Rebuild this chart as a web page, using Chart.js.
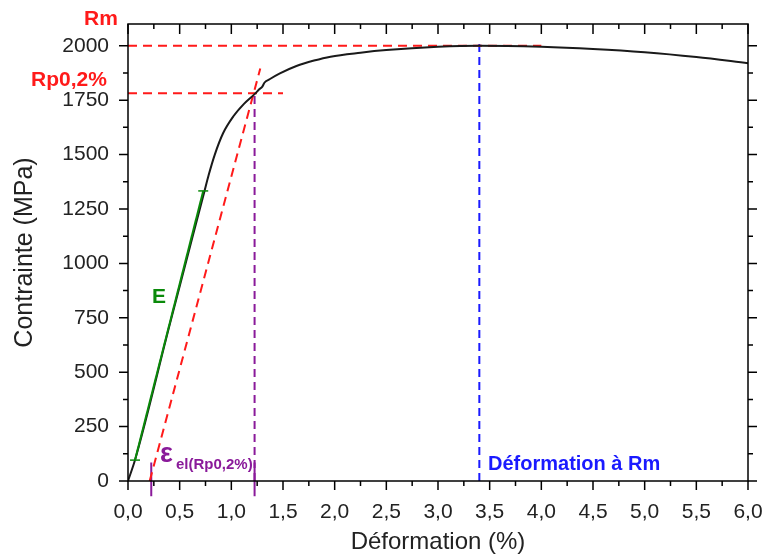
<!DOCTYPE html>
<html>
<head>
<meta charset="utf-8">
<script src="https://cdn.jsdelivr.net/npm/chart.js@4"></script>
<style>
  html, body { margin: 0; padding: 0; background: #fff; }
  #wrap { width: 763px; height: 558px; }
</style>
</head>
<body>
<div id="wrap"><canvas id="stressChart" width="763" height="558"></canvas></div>
<script>
// stress-strain curve
const strain = [0, 0.07, 0.4, 0.74, 0.78, 0.84, 0.92, 1.02, 1.12, 1.23, 1.27, 1.30, 1.32, 1.37, 1.47, 1.63, 1.8, 1.96, 2.25, 2.5, 3.0, 3.4, 4.0, 4.5, 5.0, 5.5, 6.0];
const stress = [0, 100, 712, 1332, 1405, 1500, 1598, 1676, 1732, 1780, 1800, 1812, 1830, 1846, 1873, 1907, 1932, 1950, 1968, 1980, 1995, 2000, 1995, 1985, 1970, 1948, 1920];

// young's modulus segment
const modulusStrain = [0.068, 0.728];
const modulusStress = [96, 1333];

// 0.2% offset line
const offsetStrain = [0.21, 1.28];
const offsetStress = [0, 1895];

// Rm, Rp0,2% and strain at Rm
const rm = 2000;
const rmEnd = 4.0;
const rp = 1782;
const rpEnd = 1.5;
const rpStrain = 1.225;
const elStart = 0.225;
const rmStrain = 3.4;
const rmLineTop = 2030;

const xTicks = [0, 0.5, 1, 1.5, 2, 2.5, 3, 3.5, 4, 4.5, 5, 5.5, 6];
const yTicks = [0, 250, 500, 750, 1000, 1250, 1500, 1750, 2000];

const RED = "#ff1a1a";
const GREEN = "#0a8a0a";
const PURPLE = "#8a1a9a";
const BLUE = "#1a1aff";
const FONT = "'Liberation Sans', Arial, sans-serif";

function pts(xs, ys) {
    return xs.map((x, i) => ({ x: x, y: ys[i] }));
}

function dashed(label, data, color, dash) {
    return {
        label: label,
        data: data,
        showLine: true,
        borderColor: color,
        borderWidth: 2,
        borderDash: dash,
        pointRadius: 0,
        fill: false
    };
}

// frame, mirrored ticks and the text labels
const framePlugin = {
    id: "frame",
    afterDatasetsDraw(chart) {
        const ctx = chart.ctx;
        const a = chart.chartArea;
        const xs = chart.scales.x;
        const ys = chart.scales.y;
        ctx.save();
        ctx.strokeStyle = "#000";
        ctx.lineWidth = 1.5;
        ctx.strokeRect(a.left, a.top, a.right - a.left, a.bottom - a.top);

        function mids(vals) {
            let out = [];
            for (let i = 0; i < vals.length - 1; i++) out.push((vals[i] + vals[i + 1]) / 2);
            return out;
        }
        const xMaj = xs.ticks.map(t => t.value);
        const yMaj = ys.ticks.map(t => t.value);
        const xMin = mids(xMaj);
        const yMin = mids(yMaj).concat([yMaj[yMaj.length - 1] + 125]).filter(v => v <= ys.max);

        ctx.beginPath();
        xMaj.forEach(v => {
            const p = xs.getPixelForValue(v);
            ctx.moveTo(p, a.bottom); ctx.lineTo(p, a.bottom + 9);
            ctx.moveTo(p, a.top); ctx.lineTo(p, a.top + 10);
        });
        xMin.forEach(v => {
            const p = xs.getPixelForValue(v);
            ctx.moveTo(p, a.bottom); ctx.lineTo(p, a.bottom + 5);
            ctx.moveTo(p, a.top); ctx.lineTo(p, a.top + 5);
        });
        yMaj.forEach(v => {
            const p = ys.getPixelForValue(v);
            ctx.moveTo(a.left, p); ctx.lineTo(a.left - 9, p);
            ctx.moveTo(a.right, p); ctx.lineTo(a.right + 9, p);
        });
        yMin.forEach(v => {
            const p = ys.getPixelForValue(v);
            ctx.moveTo(a.left, p); ctx.lineTo(a.left - 5, p);
            ctx.moveTo(a.right, p); ctx.lineTo(a.right + 5, p);
        });
        ctx.stroke();

        ctx.textBaseline = "middle";
        ctx.textAlign = "left";
        ctx.font = "bold 21px " + FONT;
        ctx.fillStyle = RED;
        ctx.fillText("Rm", 84, 19);
        ctx.fillText("Rp0,2%", 31, 80);
        ctx.fillStyle = GREEN;
        ctx.fillText("E", 152, 297);
        ctx.fillStyle = BLUE;
        ctx.font = "bold 20px " + FONT;
        ctx.fillText("Déformation à Rm", 488, 464);
        ctx.fillStyle = PURPLE;
        ctx.font = "bold 27px " + FONT;
        ctx.fillText("ε", 160, 455);
        ctx.font = "bold 15px " + FONT;
        ctx.fillText("el(Rp0,2%)", 176, 465);
        ctx.restore();
    }
};

const ctx = document.getElementById("stressChart").getContext("2d");

const chart = new Chart(ctx, {
    type: "scatter",
    data: {
        datasets: [
            {
                label: "E",
                data: pts(modulusStrain, modulusStress),
                showLine: true,
                borderColor: GREEN,
                borderWidth: 2,
                pointStyle: "line",
                pointRadius: 5,
                pointBorderWidth: 1.5,
                pointBorderColor: GREEN,
                order: 0
            },
            {
                label: "curve",
                data: pts(strain, stress),
                showLine: true,
                borderColor: "#1a1a1a",
                borderWidth: 2,
                pointRadius: 0,
                cubicInterpolationMode: "monotone",
                order: 1
            },
            Object.assign(dashed("offset", pts(offsetStrain, offsetStress), RED, [9, 6]), { order: 2 }),
            Object.assign(dashed("Rm", pts([0, rmEnd], [rm, rm]), RED, [9, 6]), { order: 3 }),
            Object.assign(dashed("Rp", pts([0, rpEnd], [rp, rp]), RED, [9, 6]), { order: 4 }),
            Object.assign(dashed("rp strain", pts([rpStrain, rpStrain], [0, rp]), PURPLE, [8, 5]), { order: 5 }),
            Object.assign(dashed("rm strain", pts([rmStrain, rmStrain], [0, rmLineTop]), BLUE, [8, 5]), { order: 6 }),
            {
                label: "el start",
                data: pts([elStart, elStart], [-70, 85]),
                showLine: true, borderColor: PURPLE, borderWidth: 2, pointRadius: 0, clip: false, order: 7
            },
            {
                label: "el end",
                data: pts([rpStrain, rpStrain], [-70, 85]),
                showLine: true, borderColor: PURPLE, borderWidth: 2, pointRadius: 0, clip: false, order: 8
            }
        ]
    },
    options: {
        responsive: false,
        animation: false,
        layout: { padding: { top: 24, right: 15, left: 0, bottom: 0 } },
        plugins: {
            legend: { display: false },
            tooltip: { enabled: false }
        },
        scales: {
            x: {
                type: "linear",
                min: 0,
                max: 6,
                afterFit: s => { s.height = 77; s.paddingLeft = 0; s.paddingRight = 0; },
                afterBuildTicks: s => { s.ticks = xTicks.map(v => ({ value: v })); },
                grid: { display: false },
                border: { display: false },
                ticks: {
                    padding: 11,
                    color: "#222",
                    font: { family: FONT, size: 21 },
                    callback: v => v.toFixed(1).replace(".", ",")
                },
                title: {
                    display: true,
                    text: "Déformation (%)",
                    color: "#222",
                    font: { family: FONT, size: 24 },
                    padding: { top: 0, bottom: 1 }
                }
            },
            y: {
                type: "linear",
                min: 0,
                max: 2100,
                afterFit: s => { s.width = 128; s.paddingTop = 0; s.paddingBottom = 0; },
                afterBuildTicks: s => { s.ticks = yTicks.map(v => ({ value: v })); },
                grid: { display: false },
                border: { display: false },
                ticks: {
                    padding: 11,
                    color: "#222",
                    font: { family: FONT, size: 21 },
                    callback: v => String(v)
                },
                title: {
                    display: true,
                    text: "Contrainte (MPa)",
                    color: "#222",
                    font: { family: FONT, size: 25 },
                    padding: { top: 10, bottom: 0 }
                }
            }
        }
    },
    plugins: [framePlugin]
});
</script>
</body>
</html>
